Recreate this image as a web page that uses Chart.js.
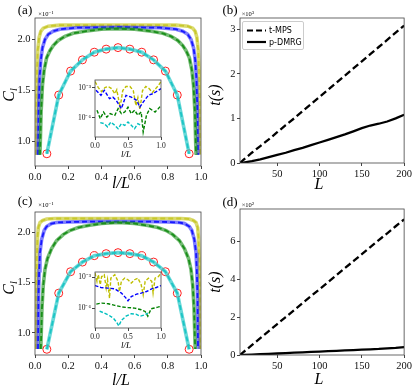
<!DOCTYPE html>
<html>
<head>
<meta charset="utf-8">
<script src="https://cdn.jsdelivr.net/npm/chart.js@4.4.1/dist/chart.umd.min.js"></script>
<style>
html, body { margin: 0; padding: 0; background: #fff; }
#fig { position: relative; width: 415px; height: 389px; overflow: hidden; background: #fff; font-family: "Liberation Serif", serif; }
canvas { position: absolute; }
.c { position: absolute; white-space: nowrap; line-height: 1; color: #000; transform: translate(-50%, -50%); }
.r { transform: translate(-50%, -50%) rotate(-90deg); }
.m { font-style: italic; font-size: 16px; }
.p { font-size: 13px; }
.e { font-size: 6.5px; }
.e sup { font-size: 5px; vertical-align: 2px; }
.m sub { font-size: 10px; vertical-align: -3px; }
.im { font-style: italic; font-size: 9px; }
#leg { position: absolute; left: 242px; top: 21px; width: 60px; height: 27px; border: 1px solid #ccc; border-radius: 2px; background: rgba(255,255,255,0.85); font-family: "DejaVu Sans", sans-serif; font-size: 8px; }
#leg div { position: absolute; left: 26px; }
#leg svg { position: absolute; left: 3px; }
</style>
</head>
<body>
<div id="fig">
  <canvas id="ca"></canvas>
  <canvas id="cb"></canvas>
  <canvas id="cc"></canvas>
  <canvas id="cd"></canvas>
  <canvas id="ia"></canvas>
  <canvas id="ic"></canvas>

  <div class="c p" style="left:25px;top:9px">(a)</div>
  <div class="c e" style="left:46px;top:13.5px">×10<sup>−1</sup></div>
  <div class="c m r" style="left:10px;top:95px">C<sub>l</sub></div>
  <div class="c m" style="left:121px;top:183px">l/L</div>

  <div class="c p" style="left:230px;top:9px">(b)</div>
  <div class="c e" style="left:248px;top:13.5px">×10<sup>3</sup></div>
  <div class="c m r" style="left:215px;top:95px">t(s)</div>
  <div class="c m" style="left:319px;top:184px">L</div>

  <div class="c p" style="left:25px;top:200px">(c)</div>
  <div class="c e" style="left:46px;top:205px">×10<sup>−1</sup></div>
  <div class="c m r" style="left:10px;top:288px">C<sub>l</sub></div>
  <div class="c m" style="left:121px;top:380px">l/L</div>

  <div class="c p" style="left:230px;top:201px">(d)</div>
  <div class="c e" style="left:248px;top:205px">×10<sup>2</sup></div>
  <div class="c m r" style="left:215px;top:282px">t(s)</div>
  <div class="c m" style="left:319px;top:379px">L</div>

  <div class="c im" style="left:126px;top:154px">l/L</div>
  <div class="c im" style="left:126px;top:345px">l/L</div>

  <div id="leg">
    <svg width="22" height="27" style="top:0"><line x1="1" y1="8.5" x2="20" y2="8.5" stroke="#000" stroke-width="2.2" stroke-dasharray="6,3"/><line x1="1" y1="20" x2="20" y2="20" stroke="#000" stroke-width="2.2"/></svg>
    <div style="top:4px">t-MPS</div>
    <div style="top:15.5px">p-DMRG</div>
  </div>
</div>

<script>
// tick positions
const ticksLL = [0, 0.2, 0.4, 0.6, 0.8, 1.0];
const ticksC = [1.0, 1.5, 2.0];
const ticksIn = [0, 0.5, 1.0];
const ticksLog = [1e-3, 1e-6];
const ticksL = [50, 100, 150, 200];
const ticksTb = [0, 1, 2, 3];
const ticksTd = [0, 2, 4, 6];

// (a) C_l vs l/L
const cyanX = [0.0714, 0.1429, 0.2143, 0.2857, 0.3571, 0.4286, 0.5, 0.5714, 0.6429, 0.7143, 0.7857, 0.8571, 0.9286];
const aCyan = [0.88, 1.455, 1.69, 1.80, 1.875, 1.905, 1.92, 1.905, 1.875, 1.80, 1.69, 1.455, 0.88];
const aYelX = [0.006, 0.009, 0.012, 0.017, 0.025, 0.035, 0.05, 0.08, 0.15, 0.3, 0.5, 0.7, 0.85, 0.92, 0.95, 0.965, 0.975, 0.983, 0.988, 0.991, 0.994];
const aYel = [0.87, 1.40, 1.70, 1.90, 2.02, 2.08, 2.11, 2.13, 2.14, 2.14, 2.14, 2.14, 2.14, 2.13, 2.11, 2.08, 2.02, 1.90, 1.70, 1.40, 0.87];
const aBluX = [0.018, 0.022, 0.027, 0.035, 0.045, 0.06, 0.08, 0.11, 0.15, 0.25, 0.5, 0.75, 0.85, 0.89, 0.92, 0.94, 0.955, 0.965, 0.973, 0.978, 0.982];
const aBlu = [0.87, 1.30, 1.60, 1.80, 1.92, 2.00, 2.05, 2.08, 2.10, 2.115, 2.12, 2.115, 2.10, 2.08, 2.05, 2.00, 1.92, 1.80, 1.60, 1.30, 0.87];
const aGrnX = [0.03, 0.037, 0.045, 0.055, 0.07, 0.09, 0.11, 0.14, 0.18, 0.23, 0.3, 0.4, 0.5, 0.6, 0.7, 0.77, 0.82, 0.86, 0.89, 0.91, 0.93, 0.945, 0.955, 0.963, 0.97];
const aGrn = [0.87, 1.30, 1.55, 1.70, 1.82, 1.89, 1.94, 1.99, 2.03, 2.06, 2.08, 2.10, 2.105, 2.10, 2.08, 2.06, 2.03, 1.99, 1.94, 1.89, 1.82, 1.70, 1.55, 1.30, 0.87];

// (c) C_l vs l/L
const cCyan = [0.837, 1.396, 1.61, 1.706, 1.77, 1.79, 1.80, 1.79, 1.77, 1.706, 1.61, 1.396, 0.837];
const cYelX = [0.006, 0.008, 0.011, 0.015, 0.02, 0.03, 0.045, 0.07, 0.12, 0.3, 0.5, 0.7, 0.88, 0.93, 0.955, 0.97, 0.98, 0.985, 0.989, 0.992, 0.994];
const cYel = [0.84, 1.40, 1.75, 1.95, 2.05, 2.10, 2.12, 2.135, 2.14, 2.14, 2.14, 2.14, 2.14, 2.135, 2.12, 2.10, 2.05, 1.95, 1.75, 1.40, 0.84];
const cBluX = [0.018, 0.021, 0.025, 0.03, 0.04, 0.055, 0.07, 0.1, 0.13, 0.2, 0.35, 0.5, 0.65, 0.8, 0.87, 0.9, 0.93, 0.945, 0.96, 0.97, 0.975, 0.979, 0.982];
const cBlu = [0.84, 1.35, 1.62, 1.80, 1.93, 2.02, 2.06, 2.09, 2.10, 2.105, 2.11, 2.11, 2.11, 2.105, 2.10, 2.09, 2.06, 2.02, 1.93, 1.80, 1.62, 1.35, 0.84];
const cGrnX = [0.035, 0.042, 0.05, 0.06, 0.075, 0.1, 0.13, 0.17, 0.21, 0.26, 0.32, 0.4, 0.5, 0.6, 0.68, 0.74, 0.79, 0.83, 0.87, 0.9, 0.925, 0.94, 0.95, 0.958, 0.965];
const cGrn = [0.84, 1.25, 1.48, 1.63, 1.74, 1.84, 1.92, 1.98, 2.02, 2.05, 2.07, 2.09, 2.10, 2.09, 2.07, 2.05, 2.02, 1.98, 1.92, 1.84, 1.74, 1.63, 1.48, 1.25, 0.84];

// inset (a): error, log scale
const iaYelX = [0, 0.05, 0.1, 0.15, 0.2, 0.25, 0.3, 0.33, 0.38, 0.42, 0.47, 0.53, 0.58, 0.62, 0.65, 0.68, 0.72, 0.77, 0.82, 0.87, 0.92, 0.96, 1.0];
const iaYel = [4.0e-3, 1.0e-3, 4.0e-4, 1.0e-3, 1.3e-3, 7.9e-4, 2.5e-4, 6.3e-4, 1.0e-5, 5.0e-4, 1.3e-3, 1.3e-3, 5.0e-4, 1.6e-5, 1.0e-4, 6.3e-6, 5.0e-4, 1.3e-3, 7.9e-4, 3.2e-4, 7.9e-4, 1.6e-3, 4.0e-3];
const iaBluX = [0.015, 0.09, 0.14, 0.22, 0.27, 0.32, 0.40, 0.47, 0.55, 0.63, 0.68, 0.73, 0.81, 0.88, 0.96, 1.0];
const iaBlu = [5.4e-4, 1.7e-4, 5.4e-4, 7.9e-5, 1.1e-4, 5.4e-5, 7.9e-6, 1.7e-4, 1.1e-4, 5.4e-5, 1.1e-5, 3.6e-5, 1.7e-4, 2.5e-4, 5.4e-4, 7.9e-4];
const iaGrnX = [0.03, 0.08, 0.13, 0.18, 0.23, 0.30, 0.35, 0.40, 0.45, 0.50, 0.55, 0.60, 0.65, 0.70, 0.73, 0.78, 0.83, 0.91, 0.96, 1.0];
const iaGrn = [5.4e-6, 7.9e-7, 3.6e-6, 1.1e-6, 2.5e-6, 1.7e-6, 7.9e-6, 2.5e-6, 3.6e-6, 1.1e-5, 2.5e-6, 5.4e-6, 1.7e-6, 3.6e-6, 3.6e-8, 1.7e-6, 7.9e-6, 3.6e-6, 7.9e-6, 1.7e-5];
const iaCyaX = [0.08, 0.14, 0.19, 0.24, 0.30, 0.35, 0.40, 0.45, 0.50, 0.55, 0.60, 0.65, 0.70];
const iaCya = [3.2e-7, 2.5e-7, 1.2e-7, 3.6e-7, 1.7e-7, 7.9e-8, 2.5e-7, 1.7e-7, 3.6e-7, 1.7e-7, 7.9e-8, 2.5e-7, 1.7e-7];

// inset (c)
const icYelX = [0, 0.03, 0.05, 0.08, 0.10, 0.14, 0.17, 0.19, 0.22, 0.24, 0.30, 0.35, 0.37, 0.40, 0.45, 0.50, 0.55, 0.60, 0.65, 0.70, 0.73, 0.76, 0.81, 0.86, 0.88, 0.91, 0.96, 1.0];
const icYel = [2.5e-3, 3.8e-4, 1.7e-3, 1.8e-4, 1.1e-3, 1.7e-3, 8.5e-5, 5.5e-4, 9.1e-6, 7.9e-4, 1.7e-3, 3.8e-4, 4.0e-5, 3.8e-4, 7.9e-4, 5.5e-4, 2.6e-4, 5.5e-4, 7.9e-4, 1.8e-4, 1.9e-5, 3.8e-4, 7.9e-4, 3.8e-4, 2.8e-5, 7.9e-4, 1.1e-3, 2.5e-3];
const icBluX = [0, 0.09, 0.19, 0.30, 0.40, 0.47, 0.50, 0.55, 0.63, 0.70, 0.78, 0.86, 0.93, 1.0];
const icBlu = [1.5e-4, 9.8e-5, 8.5e-5, 7.2e-5, 2.8e-5, 9.1e-6, 5.0e-6, 1.3e-5, 2.2e-5, 2.8e-5, 4.0e-5, 7.2e-5, 9.8e-5, 1.5e-4];
const icGrnX = [0.02, 0.1, 0.2, 0.3, 0.4, 0.5, 0.6, 0.7, 0.76, 0.8, 0.85, 0.9, 0.95, 1.0];
const icGrn = [2.4e-6, 3.0e-6, 2.6e-6, 1.8e-6, 1.3e-6, 1.1e-6, 9.8e-7, 6.8e-7, 4.6e-7, 1.6e-7, 8.3e-7, 1.0e-6, 1.2e-6, 1.5e-6];
const icCyaX = [0.07, 0.14, 0.21, 0.28, 0.33, 0.36, 0.40, 0.47, 0.55, 0.62, 0.68, 0.74, 0.80];
const icCya = [5.0e-7, 3.2e-7, 2.0e-7, 1.0e-7, 4.0e-8, 1.8e-8, 6.3e-8, 1.6e-7, 2.8e-7, 2.5e-7, 1.6e-7, 2.0e-7, 3.2e-7];

// (b), (d): run time vs L
const sizes = [6, 10, 20, 30, 40, 50, 60, 70, 80, 90, 100, 110, 120, 130, 140, 150, 160, 170, 180, 190, 200];
const bTmps = [0, 0.07, 0.23, 0.38, 0.53, 0.69, 0.85, 1.0, 1.16, 1.32, 1.48, 1.64, 1.80, 1.96, 2.12, 2.28, 2.44, 2.60, 2.76, 2.92, 3.08];
const bDmrg = [0, 0.01, 0.04, 0.08, 0.13, 0.18, 0.23, 0.29, 0.34, 0.40, 0.46, 0.52, 0.58, 0.64, 0.71, 0.78, 0.84, 0.88, 0.93, 1.0, 1.08];
const dTmps = [0, 0.15, 0.52, 0.89, 1.26, 1.63, 2.0, 2.37, 2.74, 3.11, 3.47, 3.84, 4.21, 4.58, 4.95, 5.32, 5.69, 6.06, 6.42, 6.79, 7.15];
const dDmrg = [0, 0.005, 0.02, 0.04, 0.06, 0.08, 0.1, 0.12, 0.14, 0.16, 0.18, 0.2, 0.22, 0.24, 0.26, 0.28, 0.3, 0.32, 0.35, 0.38, 0.42];

const AX = '#444';
const tickFont = { family: 'Liberation Serif', size: 10.5 };
const smallFont = { family: 'Liberation Serif', size: 7.5 };

function pts(xs, ys) { return xs.map((x, i) => ({ x: x, y: ys[i] })); }

function band(xs, ys, col, fade) {
  return [
    { data: pts(xs, ys), borderColor: fade, borderWidth: 3.6, pointRadius: 0, tension: 0 },
    { data: pts(xs, ys), borderColor: col, borderWidth: 1.8, borderDash: [5, 3], pointRadius: 0, tension: 0 }
  ];
}

function dashed(xs, ys, col) {
  return { data: pts(xs, ys), borderColor: col, borderWidth: 1.4, borderDash: [3.5, 1.8], pointRadius: 0, tension: 0 };
}

function circles(xs, ys) {
  return { data: pts(xs, ys), showLine: false, pointRadius: 4, pointBorderColor: '#ff2020', pointBackgroundColor: 'rgba(0,0,0,0)', pointBorderWidth: 1 };
}

const framePlugin = {
  id: 'frame',
  beforeDatasetsDraw(chart, args, opts) {
    if (!opts.fill) return;
    const a = chart.chartArea, ctx = chart.ctx;
    ctx.save();
    ctx.fillStyle = '#fff';
    ctx.fillRect(a.left, a.top, a.right - a.left, a.bottom - a.top);
    ctx.restore();
  },
  afterDatasetsDraw(chart) {
    const a = chart.chartArea, ctx = chart.ctx;
    ctx.save();
    ctx.strokeStyle = AX;
    ctx.lineWidth = 0.8;
    ctx.strokeRect(a.left, a.top, a.right - a.left, a.bottom - a.top);
    ctx.restore();
  }
};
Chart.register(framePlugin);

function axis(type, min, max, tickVals, fmt, font, pad) {
  return {
    type: type, min: min, max: max,
    afterBuildTicks: s => { s.ticks = tickVals.map(v => ({ value: v })); },
    ticks: { callback: fmt, font: font, color: '#111', padding: pad, autoSkip: false, maxRotation: 0 },
    grid: { drawOnChartArea: false, drawTicks: true, tickLength: 3, color: AX },
    border: { display: false }
  };
}

function mkChart(id, area, m, datasets, xs, ys, fill) {
  const cv = document.getElementById(id);
  const w = area[2] - area[0] + m[0] + m[2];
  const h = area[3] - area[1] + m[1] + m[3];
  cv.width = w; cv.height = h;
  cv.style.left = (area[0] - m[0]) + 'px';
  cv.style.top = (area[1] - m[1]) + 'px';
  cv.style.width = w + 'px'; cv.style.height = h + 'px';
  xs.afterFit = s => { s.height = m[3]; };
  ys.afterFit = s => { s.width = m[0]; };
  return new Chart(cv, {
    type: 'line',
    data: { datasets: datasets },
    options: {
      responsive: false, animation: false, events: [],
      layout: { padding: { left: 0, top: m[1], right: m[2], bottom: 0 } },
      plugins: { legend: { display: false }, tooltip: { enabled: false }, frame: { fill: fill } },
      scales: { x: xs, y: ys }
    }
  });
}

const f1 = v => Number(v).toFixed(1);
const f0 = v => String(v);
const fLog = v => (Math.round(Math.log10(v)) === -3 ? '10⁻³' : '10⁻⁶');

// (a)
mkChart('ca', [35, 18, 201, 166], [35, 18, 12, 28],
  [].concat(
    band(aGrnX, aGrn, '#008000', 'rgba(40,150,40,0.65)'),
    band(aBluX, aBlu, '#0000ff', 'rgba(40,40,255,0.6)'),
    band(aYelX, aYel, '#b8b800', 'rgba(205,205,60,0.75)'),
    band(cyanX, aCyan, '#00bfbf', 'rgba(40,200,200,0.7)'),
    [circles(cyanX, aCyan)]
  ),
  axis('linear', 0, 1, ticksLL, f1, tickFont, 2),
  axis('linear', 0.76, 2.21, ticksC, f1, tickFont, 1.5), false);

// (c)
mkChart('cc', [35, 212, 201, 355], [35, 18, 12, 28],
  [].concat(
    band(cGrnX, cGrn, '#008000', 'rgba(40,150,40,0.65)'),
    band(cBluX, cBlu, '#0000ff', 'rgba(40,40,255,0.6)'),
    band(cYelX, cYel, '#b8b800', 'rgba(205,205,60,0.75)'),
    band(cyanX, cCyan, '#00bfbf', 'rgba(40,200,200,0.7)'),
    [circles(cyanX, cCyan)]
  ),
  axis('linear', 0, 1, ticksLL, f1, tickFont, 2),
  axis('linear', 0.78, 2.205, ticksC, f1, tickFont, 1.5), false);

// (b)
mkChart('cb', [240, 18, 405, 163], [30, 18, 9, 28],
  [
    { data: pts(sizes, bTmps), borderColor: '#000', borderWidth: 2.3, borderDash: [7, 3.5], pointRadius: 0 },
    { data: pts(sizes, bDmrg), borderColor: '#000', borderWidth: 2.3, pointRadius: 0 }
  ],
  axis('linear', 6, 200, ticksL, f0, tickFont, 2),
  axis('linear', 0, 3.25, ticksTb, f0, tickFont, 1.5), false);

// (d)
mkChart('cd', [240, 209, 405, 355], [30, 18, 9, 28],
  [
    { data: pts(sizes, dTmps), borderColor: '#000', borderWidth: 2.3, borderDash: [7, 3.5], pointRadius: 0 },
    { data: pts(sizes, dDmrg), borderColor: '#000', borderWidth: 2.3, pointRadius: 0 }
  ],
  axis('linear', 6, 200, ticksL, f0, tickFont, 2),
  axis('linear', 0, 7.7, ticksTd, f0, tickFont, 1.5), false);

// inset (a)
mkChart('ia', [95, 80, 161, 137], [22, 8, 8, 12],
  [
    dashed(iaCyaX, iaCya, '#00bfbf'),
    dashed(iaGrnX, iaGrn, '#008000'),
    dashed(iaBluX, iaBlu, '#0000ff'),
    dashed(iaYelX, iaYel, '#bfbf00')
  ],
  axis('linear', 0, 1, ticksIn, f1, smallFont, 1.5),
  axis('logarithmic', 1.15e-8, 5.75e-3, ticksLog, fLog, smallFont, 1), true);

// inset (c)
mkChart('ic', [95, 272, 161, 328], [22, 8, 8, 12],
  [
    dashed(icCyaX, icCya, '#00bfbf'),
    dashed(icGrnX, icGrn, '#008000'),
    dashed(icBluX, icBlu, '#0000ff'),
    dashed(icYelX, icYel, '#bfbf00')
  ],
  axis('linear', 0, 1, ticksIn, f1, smallFont, 1.5),
  axis('logarithmic', 1.15e-8, 3.1e-3, ticksLog, fLog, smallFont, 1), true);
</script>
</body>
</html>
